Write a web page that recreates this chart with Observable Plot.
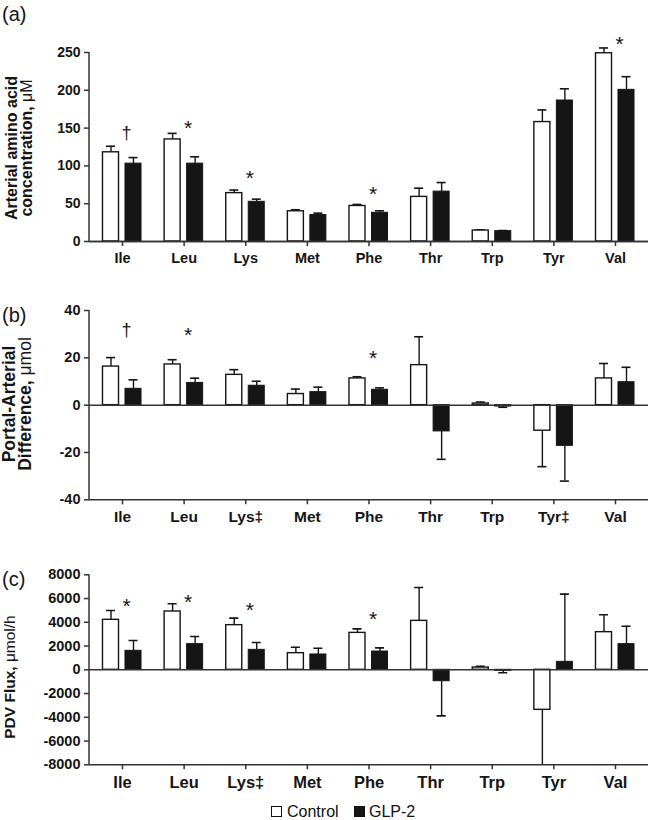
<!DOCTYPE html>
<html>
<head>
<meta charset="utf-8">
<script src="https://cdn.jsdelivr.net/npm/d3@7"></script>
<script src="https://cdn.jsdelivr.net/npm/@observablehq/plot@0.6"></script>
<style>
  html, body { margin: 0; padding: 0; background: #fff; }
  #wrap { width: 650px; font-family: "Liberation Sans", Arial, sans-serif; }
  #wrap svg { display: block; }
  .legend { position: relative; height: 25px; font: 16px "Liberation Sans", Arial, sans-serif; color: #111; }
  .legend span { position: absolute; top: 8px; line-height: 17px; }
  .sw { width: 11px; height: 11px; border: 1.3px solid #111; box-sizing: border-box; margin-top: 3px; }
</style>
</head>
<body>
<div id="wrap"></div>
<script>
// ---------- data ----------
const cats = ["Ile", "Leu", "Lys", "Met", "Phe", "Thr", "Trp", "Tyr", "Val"];
const tickLabelsA = ["Ile", "Leu", "Lys", "Met", "Phe", "Thr", "Trp", "Tyr", "Val"];
const tickLabelsB = ["Ile", "Leu", "Lys‡", "Met", "Phe", "Thr", "Trp", "Tyr‡", "Val"];
const tickLabelsC = ["Ile", "Leu", "Lys‡", "Met", "Phe", "Thr", "Trp", "Tyr", "Val"];
const groups = ["Control", "GLP-2"];

// (a) Arterial amino acid concentration, µM
const ctrlA    = [118, 135, 64, 40, 47, 59, 14.5, 158, 249];
const ctrlAErr = [126, 143, 68, 42, 49, 70.5, 15.5, 174, 256];
const glpA     = [103, 103, 52.5, 35, 38, 66, 13.7, 186.5, 200.6];
const glpAErr  = [111, 112, 56, 37.5, 40.6, 78, 14.5, 202, 218];
const yTicksA  = [0, 50, 100, 150, 200, 250];
const annotCatA = ["Ile", "Leu", "Lys", "Phe", "Val"];
const annotSymA = ["†", "*", "*", "*", "*"];
const annotYA   = [143.5, 156.7, 90.6, 69, 268];

// (b) Portal-arterial difference, µmol
const ctrlB    = [16.3, 17.2, 12.8, 4.7, 11.3, 16.9, 0.7, -10.8, 11.3];
const ctrlBErr = [20.1, 19.2, 15, 6.8, 12, 28.9, 1.3, -26, 17.6];
const glpB     = [6.9, 9.4, 8.2, 5.5, 6.5, -11.1, -0.6, -17.2, 9.7];
const glpBErr  = [10.7, 11.4, 10.1, 7.6, 7.3, -22.9, -0.9, -32.1, 16];
const yTicksB  = [-40, -20, 0, 20, 40];
const annotCatB = ["Ile", "Leu", "Phe"];
const annotSymB = ["†", "*", "*"];
const annotYB   = [31.6, 31.6, 21.8];

// (c) PDV flux, µmol/h
const ctrlC    = [4210, 4910, 3760, 1400, 3110, 4120, 190, -3370, 3170];
const ctrlCErr = [5000, 5560, 4350, 1900, 3450, 6930, 300, -8300, 4630];
const glpC     = [1600, 2160, 1680, 1290, 1540, -960, -90, 670, 2160];
const glpCErr  = [2470, 2800, 2300, 1820, 1850, -3880, -250, 6370, 3670];
const yTicksC  = [-8000, -6000, -4000, -2000, 0, 2000, 4000, 6000, 8000];
const annotCatC = ["Ile", "Leu", "Lys", "Phe"];
const annotSymC = ["*", "*", "*", "*"];
const annotYC   = [5770, 6105, 5440, 4715];

// ---------- drawing ----------
const FONT = '"Liberation Sans", Arial, Helvetica, sans-serif';
const INK = "#151515";

function panel(cfg) {
  const rows = [];
  cats.forEach((c, i) => {
    rows.push({cat: c, group: groups[0], value: cfg.ctrl[i], err: cfg.ctrlErr[i]});
    rows.push({cat: c, group: groups[1], value: cfg.glp[i], err: cfg.glpErr[i]});
  });
  const ctrlRows = rows.filter(d => d.group === groups[0]);
  const glpRows = rows.filter(d => d.group === groups[1]);
  const ann = cfg.annCat.map((c, i) => ({cat: c, sym: cfg.annSym[i], y: cfg.annY[i]}));
  const clip = cfg.clip;

  const chart = Plot.plot({
    width: 650,
    height: cfg.height,
    marginTop: cfg.marginTop,
    marginBottom: cfg.marginBottom,
    marginLeft: 89,
    marginRight: 2,
    style: {fontFamily: FONT, fontWeight: "bold", fontSize: cfg.yFont + "px", background: "white", color: INK, overflow: "visible"},
    x: {domain: cats, paddingInner: 0, paddingOuter: 0.0355, round: false, align: 0.5},
    y: {domain: cfg.yDomain},
    marks: [
      // error bars
      Plot.ruleX(ctrlRows, {x: "cat", y1: "value", y2: "err", dx: -11.5, stroke: INK, strokeWidth: 1.4, clip}),
      Plot.ruleX(glpRows, {x: "cat", y1: "value", y2: "err", dx: 11, stroke: INK, strokeWidth: 1.4, clip}),
      Plot.tickY(ctrlRows, {x: "cat", y: "err", insetLeft: 14.8, insetRight: 37.8, stroke: INK, strokeWidth: 1.6, clip}),
      Plot.tickY(glpRows, {x: "cat", y: "err", insetLeft: 37.3, insetRight: 15.3, stroke: INK, strokeWidth: 1.6, clip}),
      // bars
      Plot.barY(ctrlRows, {x: "cat", y: "value", fill: "white", stroke: INK, strokeWidth: 1.4, insetLeft: 11.3, insetRight: 34.3}),
      Plot.barY(glpRows, {x: "cat", y: "value", fill: INK, stroke: INK, strokeWidth: 1, insetLeft: 33.8, insetRight: 11.8}),
      // zero line and bottom axis line
      Plot.ruleY([0], {stroke: "#333", strokeWidth: 1.5}),
      Plot.ruleY([cfg.yDomain[0]], {stroke: "#333", strokeWidth: 1.5}),
      // significance marks
      Plot.text(ann.filter(d => d.sym === "*"), {x: "cat", y: "y", text: "sym", dx: 4, dy: 5, fontSize: 21, fontWeight: "normal", fill: INK}),
      Plot.text(ann.filter(d => d.sym !== "*"), {x: "cat", y: "y", text: "sym", dx: 4, fontSize: 18, fontWeight: "normal", fill: INK}),
      // axes
      Plot.axisY({ticks: cfg.yTicks, tickSize: 5, tickPadding: 4, tickFormat: d => String(d), label: null, fontSize: cfg.yFont, stroke: "#333", strokeWidth: 1.5}),
      Plot.axisX({tickSize: 5, tickPadding: 6, tickFormat: d => cfg.tickLabels[cats.indexOf(d)], label: null, fontSize: cfg.xFont, stroke: "#333", strokeWidth: 1.5})
    ]
  });

  const svg = d3.select(chart);
  const yr = chart.scale("y").range;
  const xr = chart.scale("x").range;
  // y axis line
  svg.append("line")
    .attr("x1", xr[0]).attr("x2", xr[0])
    .attr("y1", Math.min(...yr)).attr("y2", Math.max(...yr))
    .attr("stroke", "#333").attr("stroke-width", 1.5);
  // panel tag
  svg.append("text").attr("x", 2).attr("y", cfg.tagY)
    .attr("text-anchor", "start")
    .attr("font-family", FONT).attr("font-size", 20).attr("font-weight", "normal").attr("fill", INK)
    .text(cfg.tag);
  // rotated y label lines
  cfg.yLabel.forEach((line, i) => {
    const t = svg.append("text")
      .attr("transform", `translate(${cfg.yLabelX[i]},${cfg.yLabelY}) rotate(-90)`)
      .attr("text-anchor", "middle")
      .attr("font-family", FONT).attr("font-size", cfg.yLabelFont).attr("font-weight", "bold").attr("fill", INK);
    const parts = line.split("μ");
    t.append("tspan").text(parts[0]);
    if (parts.length > 1) {
      t.append("tspan").attr("font-weight", "normal").text("μ" + parts[1]);
    }
  });
  return chart;
}

const wrap = document.getElementById("wrap");

wrap.appendChild(panel({
  ctrl: ctrlA, ctrlErr: ctrlAErr, glp: glpA, glpErr: glpAErr,
  annCat: annotCatA, annSym: annotSymA, annY: annotYA,
  yDomain: [0, 250], yTicks: yTicksA, tickLabels: tickLabelsA, clip: false,
  height: 270, marginTop: 52, marginBottom: 29,
  yFont: 14, xFont: 14.5,
  tag: "(a)", tagY: 21,
  yLabel: ["Arterial amino acid", "concentration, μM"], yLabelX: [17, 32], yLabelY: 148, yLabelFont: 16
}));

wrap.appendChild(panel({
  ctrl: ctrlB, ctrlErr: ctrlBErr, glp: glpB, glpErr: glpBErr,
  annCat: annotCatB, annSym: annotSymB, annY: annotYB,
  yDomain: [-40, 40], yTicks: yTicksB, tickLabels: tickLabelsB, clip: false,
  height: 270, marginTop: 40, marginBottom: 40.7,
  yFont: 14.5, xFont: 15.5,
  tag: "(b)", tagY: 52,
  yLabel: ["Portal-Arterial", "Difference, μmol"], yLabelX: [15, 31], yLabelY: 134, yLabelFont: 17.5
}));

wrap.appendChild(panel({
  ctrl: ctrlC, ctrlErr: ctrlCErr, glp: glpC, glpErr: glpCErr,
  annCat: annotCatC, annSym: annotSymC, annY: annotYC,
  yDomain: [-8000, 8000], yTicks: yTicksC, tickLabels: tickLabelsC, clip: true,
  height: 255, marginTop: 34.3, marginBottom: 30.7,
  yFont: 14.5, xFont: 16.5,
  tag: "(c)", tagY: 46,
  yLabel: ["PDV Flux, μmol/h"], yLabelX: [15], yLabelY: 137, yLabelFont: 15.5
}));

// legend
const legend = document.createElement("div");
legend.className = "legend";
legend.innerHTML =
  `<span class="sw" style="left:271px;background:#fff"></span>` +
  `<span style="left:287px">${groups[0]}</span>` +
  `<span class="sw" style="left:354px;background:${INK}"></span>` +
  `<span style="left:369px">${groups[1]}</span>`;
wrap.appendChild(legend);
</script>
</body>
</html>
